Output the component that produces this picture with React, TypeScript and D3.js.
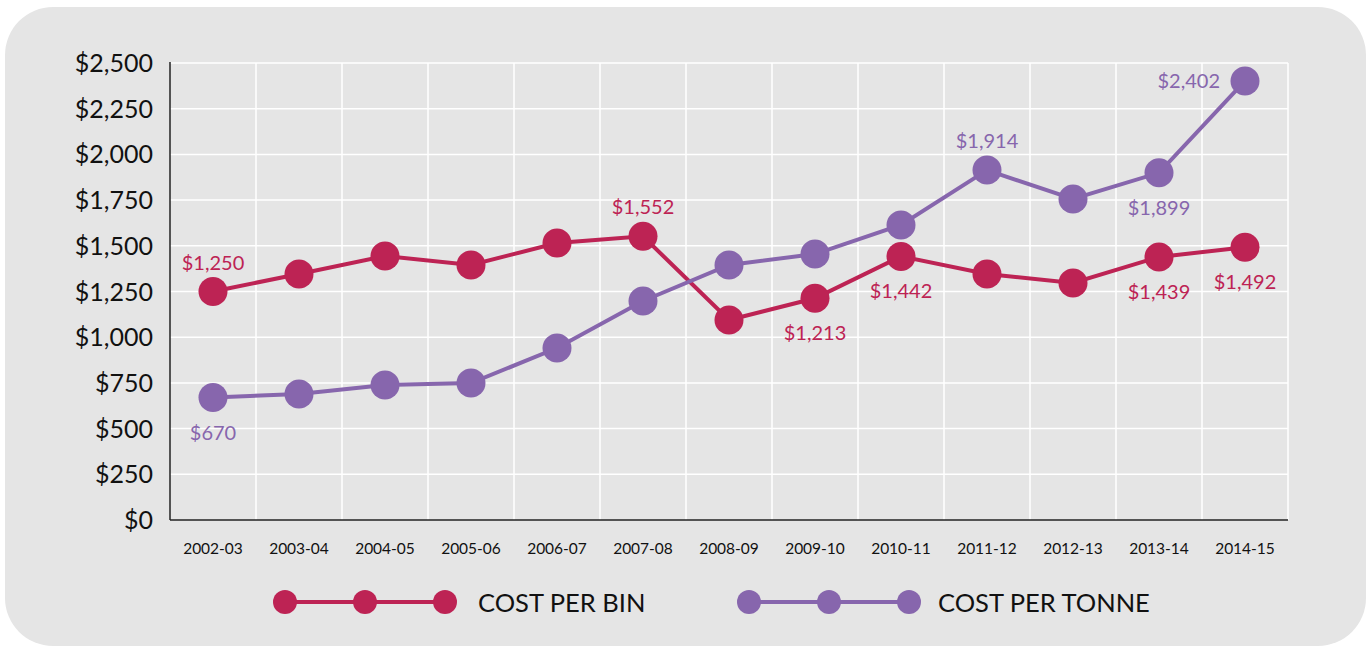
import React from 'react';
import * as d3 from 'd3';

const years = ['2002-03', '2003-04', '2004-05', '2005-06', '2006-07', '2007-08', '2008-09', '2009-10', '2010-11', '2011-12', '2012-13', '2013-14', '2014-15'];
const costPerBin = [1250, 1346, 1444, 1395, 1515, 1552, 1094, 1213, 1442, 1346, 1297, 1439, 1492];
const costPerTonne = [670, 689, 739, 749, 941, 1198, 1395, 1455, 1614, 1914, 1756, 1899, 2402];
const yTicks = [0, 250, 500, 750, 1000, 1250, 1500, 1750, 2000, 2250, 2500];

// labelled points: index, placement
const binLabels = [
  { i: 0, pos: 'above' },
  { i: 5, pos: 'above' },
  { i: 7, pos: 'below' },
  { i: 8, pos: 'below' },
  { i: 11, pos: 'below' },
  { i: 12, pos: 'below' },
];
const tonneLabels = [
  { i: 0, pos: 'below' },
  { i: 9, pos: 'above' },
  { i: 11, pos: 'below' },
  { i: 12, pos: 'left' },
];

const W = 1372;
const H = 648;
const margin = { left: 170, right: 84, top: 63, bottom: 128 };
const binColor = '#bd2354';
const tonneColor = '#8766ad';
const font = "'Gill Sans', Lato, 'Open Sans', sans-serif";

const App = () => {
  const x = d3.scaleBand<string>()
    .domain(years)
    .range([margin.left, W - margin.right])
    .padding(0);
  const y = d3.scaleLinear()
    .domain([0, 2500])
    .range([H - margin.bottom, margin.top]);

  const cx = (i: number) => (x(years[i]) as number) + x.bandwidth() / 2;
  const fmt = (v: number) => '$' + d3.format(',')(v);

  const line = d3.line<number>()
    .x((d, i) => cx(i))
    .y(d => y(d));

  const series = [
    { values: costPerBin, color: binColor, labels: binLabels },
    { values: costPerTonne, color: tonneColor, labels: tonneLabels },
  ];

  const labelPos = (i: number, v: number, pos: string) => {
    if (pos === 'above') return { lx: cx(i), ly: y(v) - 22, anchor: 'middle' };
    if (pos === 'below') return { lx: cx(i), ly: y(v) + 42, anchor: 'middle' };
    return { lx: cx(i) - 25, ly: y(v) + 7, anchor: 'end' };
  };

  const legend = [
    { name: 'COST PER BIN', color: binColor, x0: 285, tx: 478 },
    { name: 'COST PER TONNE', color: tonneColor, x0: 749, tx: 938 },
  ];

  return (
    <svg width={W} height={H} style={{ position: 'absolute', left: 0, top: 0, display: 'block' }} fontFamily={font}>
      <rect x={0} y={0} width={W} height={H} fill='#ffffff' />
      <rect x={5} y={7} width={1361} height={639} rx={48} ry={48} fill='#e5e5e5' />

      {/* grid */}
      {yTicks.filter(t => t > 0).map(t => (
        <line key={'h' + t} x1={margin.left} x2={W - margin.right} y1={y(t)} y2={y(t)} stroke='#ffffff' strokeWidth={1.5} />
      ))}
      {years.slice(1).map(yr => (
        <line key={'v' + yr} x1={x(yr)} x2={x(yr)} y1={y(2500)} y2={y(0)} stroke='#ffffff' strokeWidth={1.5} />
      ))}
      <line x1={W - margin.right} x2={W - margin.right} y1={y(2500)} y2={y(0)} stroke='#ffffff' strokeWidth={1.5} />

      {/* axes */}
      <line x1={margin.left} x2={margin.left} y1={y(2500) - 1} y2={y(0)} stroke='#222' strokeWidth={1.5} />
      <line x1={margin.left} x2={W - margin.right} y1={y(0)} y2={y(0)} stroke='#222' strokeWidth={1.5} />

      {yTicks.map(t => (
        <text key={'yt' + t} x={153} y={y(t) + 9} textAnchor='end' fontSize={25} fill='#111'>{fmt(t)}</text>
      ))}
      {years.map(yr => (
        <text key={'xt' + yr} x={(x(yr) as number) + x.bandwidth() / 2} y={554} textAnchor='middle' fontSize={15.5} fill='#111'>{yr}</text>
      ))}

      {/* series */}
      {series.map((s, si) => (
        <g key={'s' + si}>
          <path d={line(s.values) as string} fill='none' stroke={s.color} strokeWidth={4} />
          {s.values.map((v, i) => (
            <circle key={i} cx={cx(i)} cy={y(v)} r={14.5} fill={s.color} />
          ))}
          {s.labels.map(l => {
            const p = labelPos(l.i, s.values[l.i], l.pos);
            return (
              <text key={'l' + l.i} x={p.lx} y={p.ly} textAnchor={p.anchor} fontSize={20} fill={s.color}>{fmt(s.values[l.i])}</text>
            );
          })}
        </g>
      ))}

      {/* legend */}
      {legend.map(l => (
        <g key={l.name}>
          <line x1={l.x0} x2={l.x0 + 160} y1={602} y2={602} stroke={l.color} strokeWidth={4} />
          {[0, 80, 160].map(d => (
            <circle key={d} cx={l.x0 + d} cy={602} r={12} fill={l.color} />
          ))}
          <text x={l.tx} y={612} fontSize={25.5} fill='#111'>{l.name}</text>
        </g>
      ))}
    </svg>
  );
};

export default App;
